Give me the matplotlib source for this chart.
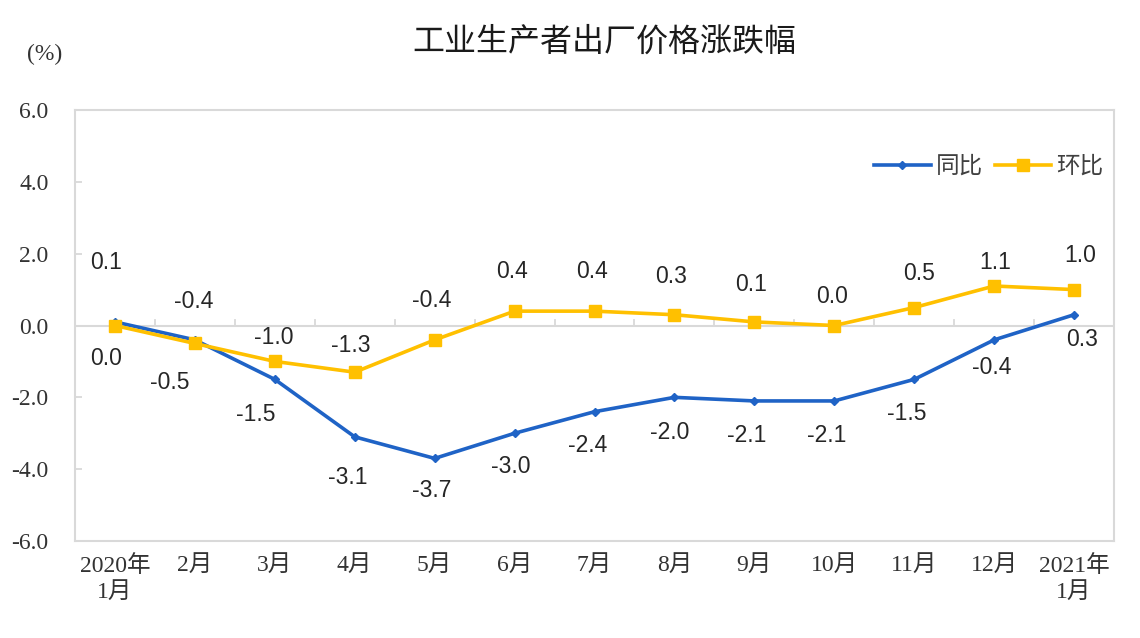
import numpy as np
import matplotlib
matplotlib.use('Agg')
import matplotlib.pyplot as plt

plt.rcParams['font.family'] = ['Liberation Sans', 'Noto Sans CJK SC', 'DejaVu Sans']

# data
months = ['2020年\n1月', '2月', '3月', '4月', '5月', '6月', '7月', '8月', '9月',
          '10月', '11月', '12月', '2021年\n1月']
yoy = [0.1, -0.4, -1.5, -3.1, -3.7, -3.0, -2.4, -2.0, -2.1, -2.1, -1.5, -0.4, 0.3]
mom = [0.0, -0.5, -1.0, -1.3, -0.4, 0.4, 0.4, 0.3, 0.1, 0.0, 0.5, 1.1, 1.0]

# label offsets in pixels (dx, dy)
yoy_off = [(-9, 59), (-1, 38), (-19, -35), (-7, -41), (-3, -32), (-4, -33), (-7, -34),
           (-5, -35), (-8, -35), (-8, -35), (-7, -34), (-2, -28), (8, -25)]
mom_off = [(-9, -33), (-25, -39), (-1, 24), (-4, 27), (-3, 39), (-3, 40), (-3, 40),
           (-3, 38), (-3, 37), (-2, 29), (5, 34), (1, 23), (6, 34)]

blue = '#1F63C6'
yellow = '#FFC000'
grid_c = '#D9D9D9'
txt_c = '#262626'
tick_c = '#333333'

fig = plt.figure(figsize=(11.4, 6.38), dpi=100)
ax = fig.add_axes([0.0658, 0.152, 0.9114, 0.6756])

x = np.arange(len(months))
l1, = ax.plot(x, yoy, color=blue, lw=2.6, marker='D', ms=4.5, label='同比', zorder=3)
l2, = ax.plot(x, mom, color=yellow, lw=2.6, marker='s', ms=9, label='环比', zorder=3)

for i in range(len(x)):
    ax.annotate(f'{yoy[i]:.1f}', (x[i], yoy[i]), xytext=yoy_off[i], textcoords='offset pixels',
                ha='center', va='center', fontsize=16.5, color=txt_c)
    ax.annotate(f'{mom[i]:.1f}', (x[i], mom[i]), xytext=mom_off[i], textcoords='offset pixels',
                ha='center', va='center', fontsize=16.5, color=txt_c)

ax.set_xlim(-0.5, len(months) - 0.5)
ax.set_ylim(-6, 6)
ax.set_yticks(np.arange(-6, 6.1, 2))
ax.set_yticklabels([f'{v:.1f}' for v in np.arange(-6, 6.1, 2)],
                   family=['Liberation Serif', 'Noto Sans CJK SC'], fontsize=17, color=tick_c)
ax.set_xticks(x)
ax.set_xticklabels(months, family=['Liberation Serif', 'Noto Sans CJK SC'], fontsize=17,
                   color=tick_c, linespacing=1.3)
ax.tick_params(axis='x', length=0, pad=10)
ax.tick_params(axis='y', direction='in', length=5, color=grid_c, width=1.3, pad=19)

for s in ax.spines.values():
    s.set_color(grid_c)
    s.set_linewidth(1.5)

# zero line with category tick marks
ax.axhline(0, color=grid_c, lw=1.5, zorder=1)
for b in np.arange(0.5, len(months) - 1, 1):
    ax.plot([b, b], [0, 0.15], color=grid_c, lw=1.3, zorder=1)

leg = ax.legend(handles=[l1, l2], loc='upper right', bbox_to_anchor=(1.01, 0.945), ncol=2,
                frameon=False, handlelength=2.4, columnspacing=0.5,
                handletextpad=0.2, prop={'family': ['Noto Sans CJK SC'], 'size': 17})
for t in leg.get_texts():
    t.set_color('#404040')

fig.text(0.530, 0.935, '工业生产者出厂价格涨跌幅', ha='center', va='center', fontsize=23,
         family=['Noto Sans CJK SC'], color='#1a1a1a')
fig.text(0.039, 0.915, '(%)', ha='center', va='center', fontsize=17,
         family=['Liberation Serif'], color=tick_c)

fig.savefig('out.png', dpi=100)
